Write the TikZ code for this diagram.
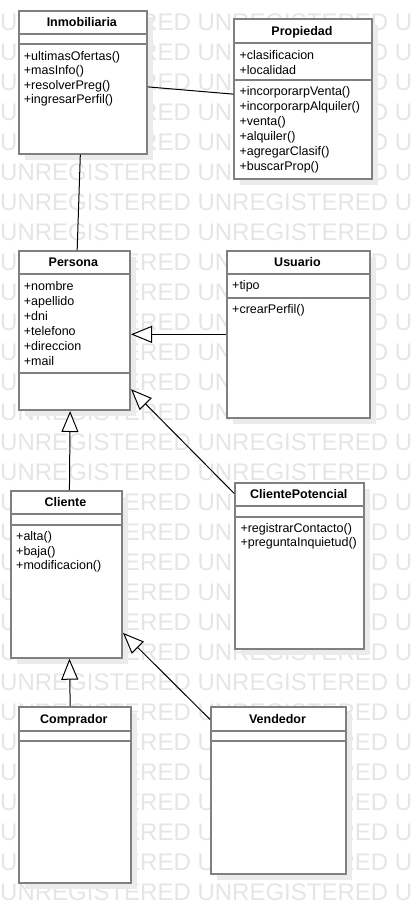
\documentclass[tikz,border=0pt]{standalone}
\usepackage{fontspec}
\setmainfont{Liberation Sans}
\usepackage{xcolor}
\usepackage{tikz}
\usetikzlibrary{arrows.meta}

\definecolor{boxgray}{HTML}{808080}

\begin{document}
\begin{tikzpicture}[x=1pt, y=-1pt,
    classbox/.style={draw=boxgray, line width=2pt, fill=white, inner sep=0pt, anchor=north west},
    boxshadow/.style={fill=black!8},
    sepline/.style={draw=boxgray, line width=2pt},
    classtitle/.style={font=\fontsize{12.5}{15}\selectfont\bfseries, inner sep=0pt, anchor=base},
    member/.style={font=\fontsize{12.5}{15}\selectfont, inner sep=0pt, anchor=base west},
    watermark/.style={text=black!10, font=\fontsize{24}{24}\selectfont, inner sep=0pt, anchor=base west},
    assoc/.style={draw=black, line width=1pt},
    inherit/.style={assoc, -{Triangle[length=21pt, width=17pt, fill=white]}}]
    \clip (0,0) rectangle (411,922);

    % Watermark rows
    \foreach \k in {0,...,29} {
        \node[watermark] (wm\k) at (0, {30.5+30*\k}) {UNREGISTERED UNREGISTERED UNREGISTERED};
    }

    % Class boxes: name/x/y/width/height/sep1/sep2/title
    \foreach \n/\x/\y/\w/\h/\sa/\sb/\cname in {
        inmobiliaria/17.7/10/128.3/142.7/24.3/34.3/Inmobiliaria,
        propiedad/233.3/18.3/137.4/159.4/24.4/62/Propiedad,
        persona/17.7/250/111.3/159/24.3/122.7/Persona,
        usuario/226/250/143/166.7/24.3/47.7/Usuario,
        clientepotencial/234.3/482.3/129/166/23.7/34.4/ClientePotencial,
        cliente/10/490/111/166.7/24.3/35/Cliente,
        comprador/17.7/706/112.3/175.7/25/35/Comprador,
        vendedor/210/706/135/166.7/25/35/Vendedor} {
        \fill[boxshadow] ({\x+7},{\y+7}) rectangle ++(\w,\h);
        \node[classbox, minimum width=\w pt, minimum height=\h pt] (\n) at (\x,\y) {};
        \draw[sepline] (\x,{\y+\sa}) -- ++(\w,0);
        \draw[sepline] (\x,{\y+\sb}) -- ++(\w,0);
        \node[classtitle] (\n-title) at ({\x+\w/2},{\y+\sa/2+4.8}) {\cname};
    }

    % Members
    \foreach \txt/\b [count=\k] in {+ultimasOfertas()/60.3, +masInfo()/74.8, +resolverPreg()/89.6, +ingresarPerfil()/103.6}
        \node[member] (inmobiliaria-m\k) at (23.7,\b) {\txt};
    \foreach \txt/\b [count=\k] in {+clasificacion/59.3, +localidad/74, +incorporarpVenta()/95.3, +incorporarpAlquiler()/110.3,
        +venta()/125.3, +alquiler()/140.3, +agregarClasif()/155.3, +buscarProp()/170.3}
        \node[member] (propiedad-m\k) at (239.3,\b) {\txt};
    \foreach \txt/\b [count=\k] in {+nombre/290, +apellido/305, +dni/320, +telefono/335, +direccion/350, +mail/365}
        \node[member] (persona-m\k) at (23.7,\b) {\txt};
    \foreach \txt/\b [count=\k] in {+tipo/289, +crearPerfil()/313.8}
        \node[member] (usuario-m\k) at (232,\b) {\txt};
    \foreach \txt/\b [count=\k] in {+registrarContacto()/532.5, +preguntaInquietud()/546.1}
        \node[member] (clientepotencial-m\k) at (240.3,\b) {\txt};
    \foreach \txt/\b [count=\k] in {+alta()/540, +baja()/555, +modificacion()/569}
        \node[member] (cliente-m\k) at (16,\b) {\txt};

    % Associations
    \draw[assoc] (inmobiliaria.-4) -- (propiedad.176);
    \draw[assoc] (inmobiliaria.-92) -- (persona.88);

    % Inheritance
    \draw[inherit] (usuario.west) -- (usuario.west -| persona.east);
    \draw[inherit] (cliente.88) -- (persona.-93);
    \draw[inherit] (clientepotencial.132) -- (persona.-46);
    \draw[inherit] (comprador.93) -- (cliente.-88);
    \draw[inherit] (vendedor.134) -- (cliente.-46);
\end{tikzpicture}
\end{document}
